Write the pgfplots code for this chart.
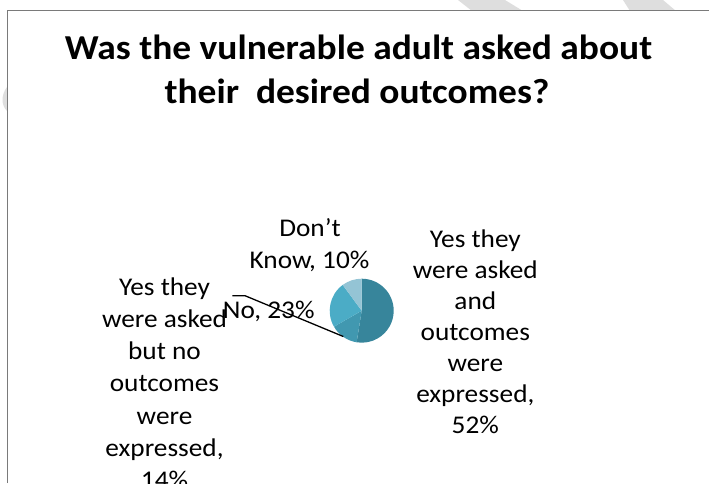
\documentclass[border=0pt]{standalone}
\usepackage{pgfplots}
\pgfplotsset{compat=1.18}
\usepackage{pgfplotstable}
\usepackage{fontspec}
\setmainfont{Carlito}

\definecolor{sliceA}{HTML}{37859B}
\definecolor{sliceB}{HTML}{4198B0}
\definecolor{sliceC}{HTML}{4BACC6}
\definecolor{sliceD}{HTML}{94C4D5}
\definecolor{framegray}{HTML}{7A7A7A}
\definecolor{wmark}{HTML}{DEDEDE}

% share of answers, clockwise from 12 o'clock
\pgfplotstableread{
answer value colour
yes_expressed 52 sliceA
yes_none 14 sliceB
no 23 sliceC
dontknow 10 sliceD
}\piedata

\newcommand{\wide}[1]{\scalebox{1.07}[1]{#1}}

\begin{document}
\begin{tikzpicture}
\begin{axis}[
    scale only axis,
    width=709pt, height=483pt,
    xmin=0, xmax=709, ymin=0, ymax=483,
    hide axis,
    clip=true,
]
% faint watermark showing outside the chart frame
\fill[wmark] (axis cs:458,483) -- (axis cs:505,483) -- (axis cs:523,472) -- (axis cs:472,472) -- cycle;
\fill[wmark] (axis cs:623,483) -- (axis cs:663,483) -- (axis cs:676,472) -- (axis cs:630,472) -- cycle;
\fill[wmark] (axis cs:7,396) .. controls (axis cs:1,388) and (axis cs:1,378) .. (axis cs:7,372) -- cycle;

% chart frame
\draw[framegray, line width=1.6pt] (axis cs:7.3,0) -- (axis cs:7.3,472.5) -- (axis cs:709,472.5);

% pie
\pgfplotstablegetrowsof{\piedata}
\pgfmathtruncatemacro\nrows{\pgfplotsretval-1}
\def\total{0}
\pgfplotsforeachungrouped \i in {0,...,\nrows}{%
  \pgfplotstablegetelem{\i}{value}\of\piedata
  \pgfmathsetmacro\total{\total+\pgfplotsretval}%
}
\def\angstart{90}
\pgfplotsforeachungrouped \i in {0,...,\nrows}{%
  \pgfplotstablegetelem{\i}{value}\of\piedata
  \pgfmathsetmacro\angend{\angstart-\pgfplotsretval/\total*360}%
  \pgfplotstablegetelem{\i}{colour}\of\piedata
  \edef\temp{\noexpand\fill[\pgfplotsretval] (axis cs:361.7,172.3) -- ++(\angstart:32pt)
     arc[start angle=\angstart, end angle=\angend, radius=32pt] -- cycle;}%
  \temp
  \let\angstart\angend
}

% leader line
\draw[black, line width=1.3pt] (axis cs:232.3,187.3) -- (axis cs:245,187.3) -- (axis cs:343.3,146.5);

% title
\node[anchor=base, inner sep=0, font=\fontsize{35}{43}\selectfont\bfseries] at (axis cs:358.5,423.7) {\wide{Was the vulnerable adult asked about}};
\node[anchor=base, inner sep=0, font=\fontsize{35}{43}\selectfont\bfseries] at (axis cs:357,379) {\wide{their\ \ desired outcomes?}};

% data labels
\tikzset{lbl/.style={anchor=base, inner sep=0, font=\fontsize{25.5}{31}\selectfont}}
\node[lbl] at (axis cs:310,246.3) {\wide{Don’t}};
\node[lbl] at (axis cs:309.5,215) {\wide{Know, 10\%}};

\node[lbl] at (axis cs:475.3,235.7) {\wide{Yes they}};
\node[lbl] at (axis cs:475.3,204.7) {\wide{were asked}};
\node[lbl] at (axis cs:475.3,173.7) {\wide{and}};
\node[lbl] at (axis cs:475.3,142.7) {\wide{outcomes}};
\node[lbl] at (axis cs:475.3,111.7) {\wide{were}};
\node[lbl] at (axis cs:475.3,80.7) {\wide{expressed,}};
\node[lbl] at (axis cs:475.3,49.7) {\wide{52\%}};

\node[lbl] at (axis cs:164.5,188) {\wide{Yes they}};
\node[lbl] at (axis cs:164.5,155.7) {\wide{were asked}};
\node[lbl] at (axis cs:164.5,123.4) {\wide{but no}};
\node[lbl] at (axis cs:164.5,91.1) {\wide{outcomes}};
\node[lbl] at (axis cs:164.5,58.8) {\wide{were}};
\node[lbl] at (axis cs:164.5,26.5) {\wide{expressed,}};
\node[lbl] at (axis cs:164.5,-5.8) {\wide{14\%}};

\node[lbl, anchor=base west] at (axis cs:222.7,164.7) {\wide{No, 23\%}};
\end{axis}
\pgfresetboundingbox
\path[use as bounding box] (0,0) rectangle (709pt,483pt);
\end{tikzpicture}
\end{document}
